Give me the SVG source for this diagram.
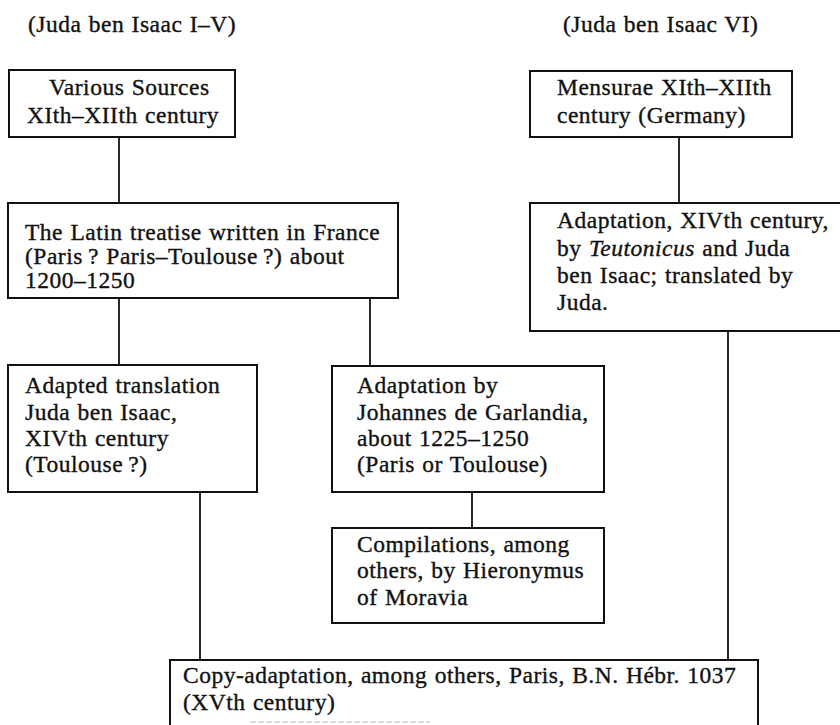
<svg xmlns="http://www.w3.org/2000/svg" width="840" height="725" viewBox="0 0 840 725">
<style>
  .box { fill: none; stroke: #111; stroke-width: 2; }
  .conn { stroke: #111; stroke-width: 1.8; fill: none; }
  text { font-family: "Liberation Serif", "Times New Roman", serif; font-size: 23.5px; letter-spacing: 0.5px; word-spacing: 1px; fill: #111; stroke: #111; stroke-width: 0.35; }
  .it { font-style: italic; }
</style>
<rect width="840" height="725" fill="#ffffff"/>
<g id="titles">
  <text x="28" y="32">(Juda ben Isaac I–V)</text>
  <text x="563" y="32">(Juda ben Isaac VI)</text>
</g>
<g id="connectors">
  <line class="conn" x1="119" y1="137" x2="119" y2="203"/>
  <line class="conn" x1="679" y1="137" x2="679" y2="203"/>
  <line class="conn" x1="119" y1="298" x2="119" y2="365"/>
  <line class="conn" x1="370" y1="298" x2="370" y2="366"/>
  <line class="conn" x1="728" y1="331" x2="728" y2="660"/>
  <line class="conn" x1="200" y1="492" x2="200" y2="660"/>
  <line class="conn" x1="472" y1="492" x2="472" y2="528"/>
</g>
<g id="node-various-sources">
  <rect class="box" x="9" y="70" width="226" height="67"/>
  <text x="49" y="95">Various Sources</text>
  <text x="27" y="123">XIth–XIIth century</text>
</g>
<g id="node-mensurae">
  <rect class="box" x="530" y="71" width="262" height="66"/>
  <text x="557" y="95">Mensurae XIth–XIIth</text>
  <text x="557" y="123">century (Germany)</text>
</g>
<g id="node-latin-treatise">
  <rect class="box" x="8" y="203" width="390" height="95"/>
  <text x="25" y="240">The Latin treatise written in France</text>
  <text x="25" y="264">(Paris&#8201;? Paris–Toulouse&#8201;?) about</text>
  <text x="25" y="288">1200–1250</text>
</g>
<g id="node-adaptation-teutonicus">
  <rect class="box" x="530" y="203" width="312" height="128"/>
  <text x="557" y="228">Adaptation, XIVth century,</text>
  <text x="557" y="256">by <tspan class="it">Teutonicus</tspan> and Juda</text>
  <text x="557" y="283">ben Isaac; translated by</text>
  <text x="557" y="310">Juda.</text>
</g>
<g id="node-adapted-translation">
  <rect class="box" x="8" y="365" width="249" height="127"/>
  <text x="25" y="393">Adapted translation</text>
  <text x="25" y="420">Juda ben Isaac,</text>
  <text x="25" y="446">XIVth century</text>
  <text x="25" y="472">(Toulouse&#8201;?)</text>
</g>
<g id="node-garlandia">
  <rect class="box" x="332" y="366" width="272" height="126"/>
  <text x="357" y="393">Adaptation by</text>
  <text x="357" y="420">Johannes de Garlandia,</text>
  <text x="357" y="446">about 1225–1250</text>
  <text x="357" y="472">(Paris or Toulouse)</text>
</g>
<g id="node-compilations">
  <rect class="box" x="332" y="528" width="272" height="95"/>
  <text x="357" y="552">Compilations, among</text>
  <text x="357" y="578">others, by Hieronymus</text>
  <text x="357" y="605">of Moravia</text>
</g>
<g id="node-copy-adaptation">
  <rect class="box" x="170" y="660" width="588" height="80"/>
  <text x="183" y="683">Copy-adaptation, among others, Paris, B.N. Hébr. 1037</text>
  <text x="183" y="710">(XVth century)</text>
  <line x1="250" y1="722" x2="430" y2="722" stroke="#bbbbbb" stroke-width="1" stroke-dasharray="6 2"/>
</g>
</svg>
